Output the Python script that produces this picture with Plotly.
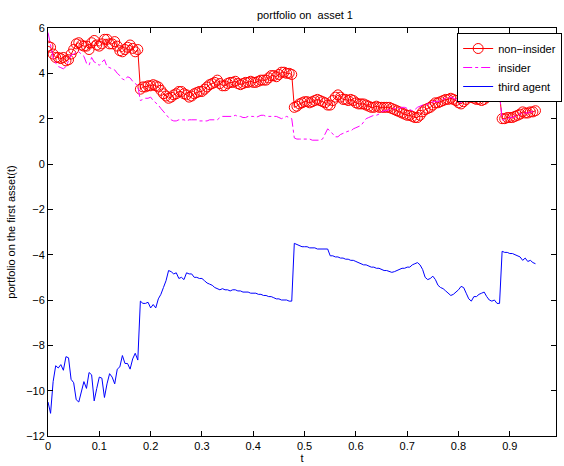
import numpy as np
import plotly.graph_objects as go

# time grid (step 0.005)
t = np.round(np.arange(0, 0.9501, 0.005), 3)

# non-insider portfolio
non_insider = [
    5.2, 5.15, 4.85, 4.7, 4.7, 4.65, 4.7, 4.55, 4.6, 4.85,
    5.05, 5.3, 5.35, 5.25, 5.2, 5.2, 5.05, 5.35, 5.45, 5.25,
    5.2, 5.3, 5.5, 5.5, 5.3, 5.3, 5.4, 5.2, 5.0, 4.95,
    5.05, 5.15, 5.25, 5.1, 4.95, 5.05,
    3.3, 3.4, 3.4, 3.45, 3.45, 3.5, 3.45, 3.4, 3.25, 3.1,
    3.0, 2.9, 2.95, 3.05, 3.1, 3.2, 3.2, 3.1, 3.05, 2.95,
    3.0, 3.1, 3.15, 3.2, 3.2, 3.3, 3.4, 3.5, 3.55, 3.6,
    3.7, 3.55, 3.45, 3.45, 3.55, 3.6, 3.6, 3.65, 3.55, 3.5,
    3.55, 3.6, 3.6, 3.65, 3.6, 3.6, 3.65, 3.7, 3.7, 3.7,
    3.8, 3.9, 3.9, 3.85, 3.95, 4.05, 4.05, 4.0, 4.0, 3.95,
    2.5, 2.55, 2.65, 2.7, 2.75, 2.75, 2.7, 2.75, 2.8, 2.85,
    2.8, 2.75, 2.7, 2.6, 2.6, 2.8, 2.95, 3.05, 2.95, 2.85,
    2.85, 2.8, 2.85, 2.8, 2.7, 2.65, 2.65, 2.65, 2.6, 2.55,
    2.5, 2.5, 2.55, 2.5, 2.5, 2.5, 2.5, 2.5, 2.45, 2.4,
    2.35, 2.3, 2.25, 2.2, 2.15, 2.15, 2.1, 2.05, 2.05, 2.15,
    2.3, 2.4, 2.45, 2.5, 2.6, 2.7, 2.7, 2.75, 2.8, 2.85,
    2.85, 2.9, 2.85, 2.8, 2.7, 2.65, 2.75, 2.85, 2.95, 2.95,
    2.9, 2.85, 2.85, 2.8, 2.85, 2.95, 3.0, 3.05, 3.1, 3.1,
    3.05,
    2.0, 2.0, 2.05, 2.05, 2.05, 2.1, 2.15, 2.2, 2.3, 2.25,
    2.25, 2.3, 2.3, 2.35,
]

# insider portfolio
insider = [
    5.8, 5.3, 4.7, 4.45, 4.3, 4.25, 4.2, 4.3, 4.55, 4.8,
    4.85, 4.95, 4.95, 4.85, 4.75, 4.45, 4.35, 4.7, 4.5, 4.45,
    4.35, 4.5, 4.6, 4.3, 4.25, 4.2, 4.15, 4.0, 3.9, 3.75,
    3.7, 3.85, 3.8, 3.65, 3.55, 3.45,
    2.8, 2.85, 2.9, 2.9, 2.95, 2.8, 2.7, 2.6, 2.45, 2.3,
    2.15, 2.05, 1.95, 1.9, 1.9, 1.95, 1.95, 1.95, 1.9, 1.95,
    1.95, 1.95, 1.95, 1.9, 1.9, 1.9, 1.9, 1.95, 1.95, 1.95,
    1.95, 2.05, 2.1, 2.1, 2.1, 2.1, 2.1, 2.15, 2.1, 2.1,
    2.05, 2.05, 2.1, 2.1, 2.1, 2.05, 2.1, 2.15, 2.15, 2.1,
    2.1, 2.1, 2.1, 2.1, 2.05, 2.0, 2.05, 2.1, 2.05, 2.0,
    1.15, 1.1, 1.1, 1.1, 1.1, 1.1, 1.1, 1.05, 1.05, 1.05,
    1.05, 1.1, 1.3, 1.55, 1.45, 1.3, 1.2, 1.2, 1.3, 1.35,
    1.4, 1.45, 1.45, 1.55, 1.6, 1.65, 1.7, 1.85, 2.0, 2.05,
    2.1, 2.15, 2.15, 2.2, 2.3, 2.35, 2.35, 2.4, 2.4, 2.45,
    2.45, 2.45, 2.5, 2.5, 2.45, 2.4, 2.35, 2.4, 2.5, 2.55,
    2.6, 2.6, 2.65, 2.7, 2.75, 2.75, 2.75, 2.8, 2.85, 2.9,
    2.9, 2.95, 2.9, 2.85, 2.75, 2.7, 2.8, 2.9, 3.0, 3.0,
    2.95, 2.9, 2.9, 2.85, 2.9, 3.0, 3.05, 3.1, 3.15, 3.15,
    3.1,
    1.95, 1.95, 2.0, 2.05, 2.05, 2.1, 2.15, 2.2, 2.25, 2.25,
    2.25, 2.3, 2.3, 2.35,
]

# third agent portfolio
third_agent = [
    -10.5, -11.0, -9.6, -8.9, -9.0, -8.85, -9.1, -8.5, -8.55, -9.5,
    -9.65, -10.4, -10.5, -10.1, -9.6, -9.9, -9.2, -9.3, -10.45, -9.9,
    -9.4, -9.45, -10.3, -9.7, -9.25, -9.4, -9.7, -9.05, -8.95, -8.45,
    -8.8, -8.8, -9.05, -8.6, -8.35, -8.65,
    -6.05, -6.15, -6.15, -6.1, -6.35, -6.2, -6.35, -5.95, -5.75, -5.45,
    -5.15, -4.7, -4.75, -4.85, -4.8, -5.05, -5.0, -5.1, -4.8, -4.85,
    -4.85, -5.0, -5.0, -5.05, -5.05, -5.15, -5.25, -5.3, -5.35, -5.45,
    -5.5, -5.55, -5.5, -5.55, -5.55, -5.6, -5.55, -5.55, -5.6, -5.6,
    -5.65, -5.65, -5.65, -5.7, -5.7, -5.7, -5.75, -5.75, -5.8, -5.8,
    -5.85, -5.85, -5.9, -5.95, -5.95, -6.0, -6.0, -6.0, -6.05, -6.05,
    -3.5, -3.55, -3.6, -3.65, -3.65, -3.65, -3.7, -3.7, -3.7, -3.75,
    -3.75, -3.75, -3.75, -3.75, -4.05, -4.05, -4.1, -4.1, -4.15, -4.15,
    -4.2, -4.2, -4.25, -4.25, -4.3, -4.35, -4.4, -4.45, -4.45, -4.5,
    -4.55, -4.55, -4.6, -4.6, -4.65, -4.7, -4.7, -4.75, -4.78, -4.75,
    -4.7, -4.65, -4.6, -4.6, -4.55, -4.55, -4.45, -4.4, -4.35, -4.45,
    -4.65, -5.0, -5.1, -5.05, -4.95, -5.1, -5.35, -5.45, -5.5, -5.6,
    -5.7, -5.8, -5.75, -5.65, -5.55, -5.4, -5.45, -5.7, -5.95, -6.05,
    -5.85, -5.85, -5.75, -5.7, -5.65, -5.85, -6.0, -6.05, -6.0, -6.15,
    -6.15,
    -3.85, -3.9, -3.9, -3.95, -3.95, -4.0, -4.05, -4.1, -4.25, -4.15,
    -4.3, -4.25, -4.35, -4.4,
]

x_ticks = [0, 0.1, 0.2, 0.3, 0.4, 0.5, 0.6, 0.7, 0.8, 0.9]
x_tick_labels = ["0", "0.1", "0.2", "0.3", "0.4", "0.5", "0.6", "0.7", "0.8", "0.9"]
y_ticks = [-12, -10, -8, -6, -4, -2, 0, 2, 4, 6]

assert len(non_insider) == len(t) == len(insider) == len(third_agent), (len(t), len(non_insider), len(insider), len(third_agent))

FONT = "Liberation Sans, Arial, Helvetica, sans-serif"

fig = go.Figure()
fig.add_trace(go.Scatter(
    x=t, y=non_insider, mode="lines+markers", name="non\u2212insider",
    line=dict(color="rgb(255,0,0)", width=1),
    marker=dict(symbol="circle-open", size=10, color="rgb(255,0,0)", line=dict(width=1)),
))
fig.add_trace(go.Scatter(
    x=t, y=insider, mode="lines", name="insider",
    line=dict(color="rgb(255,0,255)", width=1, dash="dashdot"),
))
fig.add_trace(go.Scatter(
    x=t, y=third_agent, mode="lines", name="third agent",
    line=dict(color="rgb(0,0,255)", width=1),
))

axis_common = dict(
    showline=True, linecolor="black", linewidth=1, mirror="ticks",
    ticks="inside", ticklen=5, tickcolor="black", showgrid=False, zeroline=False,
    tickfont=dict(family=FONT, size=11, color="black"), automargin=False,
)

fig.update_layout(
    width=564, height=466,
    margin=dict(l=48, r=2, t=28, b=30),
    paper_bgcolor="white", plot_bgcolor="white",
    font=dict(family=FONT, size=11, color="black"),
    title=dict(text="portfolio on\u00a0 asset 1", x=(48 + 562) / 2 / 564, xanchor="center",
               y=1 - 15 / 466, yanchor="middle", font=dict(family=FONT, size=11, color="black")),
    xaxis=dict(range=[0, 0.99], tickvals=x_ticks, ticktext=x_tick_labels,
               title=dict(text="t", standoff=0, font=dict(family=FONT, size=11)), **axis_common),
    yaxis=dict(range=[-12, 6], tickvals=y_ticks,
               title=dict(text="portfolio on the first asset(t)", standoff=8, font=dict(family=FONT, size=11)),
               **axis_common),
    legend=dict(x=(462 - 48) / 514, xanchor="left", y=1 - 5 / 408, yanchor="top",
                bgcolor="white", bordercolor="black", borderwidth=1,
                font=dict(family=FONT, size=11), tracegroupgap=0, itemwidth=30),
    showlegend=True,
)

fig.write_html("out.html", config={"displayModeBar": False},
               post_script="document.body.style.margin='0';document.body.style.padding='0';")
